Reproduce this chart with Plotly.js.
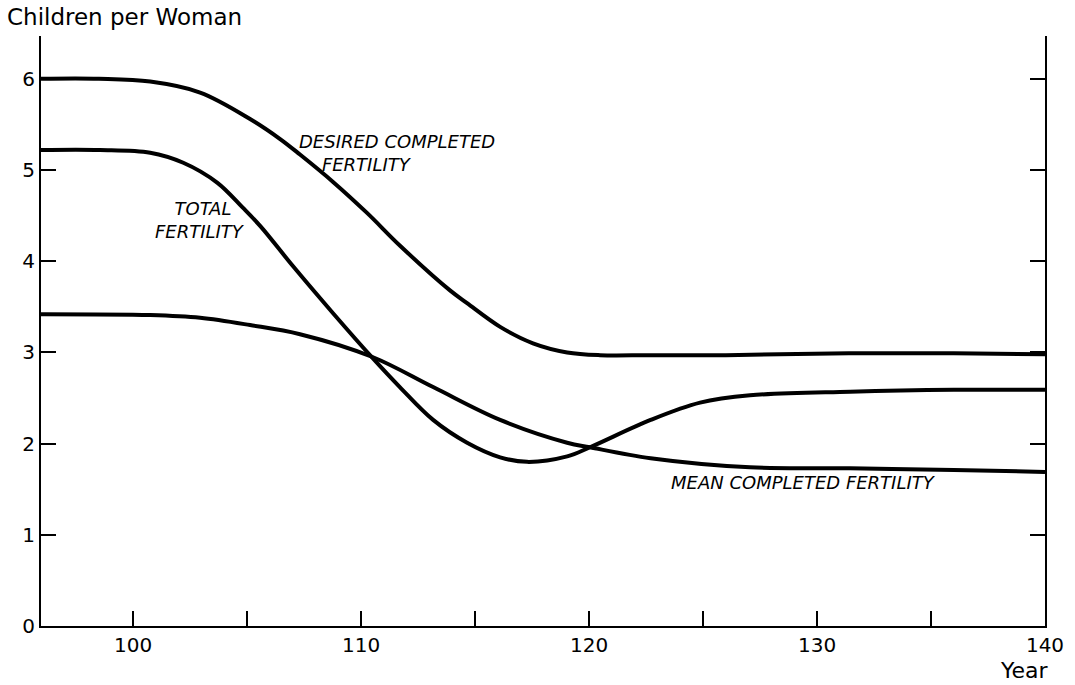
<!DOCTYPE html>
<html>
<head>
<meta charset="utf-8">
<script src="https://cdn.plot.ly/plotly-3.0.1.min.js"></script>
<style>html,body{margin:0;padding:0;background:#fff;}#chart{width:1075px;height:685px;}</style>
</head>
<body>
<div id="chart"></div>
<script>
// Desired completed fertility
const desiredYears  = [95.96, 98.5, 100.75, 102.94, 105.13, 106.45, 107.32, 108.77, 110.26, 111.71, 113.9, 114.65, 116.1, 117.54, 119.04, 120.48, 122.7, 126, 131.4, 136, 140];
const desiredValues = [6.0, 6.0, 5.97, 5.85, 5.56, 5.34, 5.17, 4.87, 4.53, 4.17, 3.68, 3.54, 3.28, 3.10, 3.0, 2.97, 2.97, 2.97, 2.99, 2.99, 2.98];

// Total fertility
const totalYears  = [95.96, 98.55, 100.75, 102.2, 103.7, 104.8, 105.6, 107.0, 108.77, 110.5, 111.7, 113.16, 114.65, 116.1, 117.28, 119.04, 120.04, 122.7, 124.87, 127.06, 131.45, 136, 140];
const totalValues = [5.22, 5.22, 5.19, 5.08, 4.86, 4.59, 4.38, 3.95, 3.43, 2.94, 2.62, 2.26, 2.01, 1.85, 1.80, 1.86, 1.96, 2.26, 2.45, 2.53, 2.57, 2.59, 2.59];

// Mean completed fertility
const meanYears  = [95.96, 100.75, 102.94, 105.13, 107.32, 110.5, 113.16, 116.1, 119.04, 120.04, 122.7, 127.06, 131.45, 136, 140];
const meanValues = [3.42, 3.41, 3.38, 3.30, 3.20, 2.95, 2.62, 2.26, 2.01, 1.96, 1.84, 1.74, 1.73, 1.71, 1.69];

// Axis ticks
const xTickVals  = [100, 105, 110, 115, 120, 125, 130, 135, 140];
const xTickText  = ["100", "", "110", "", "120", "", "130", "", "140"];
const yTickVals  = [0, 1, 2, 3, 4, 5, 6];
const yTickText  = ["0", "1", "2", "3", "4", "5", "6"];

const lineStyle = {color: '#000', width: 4, shape: 'spline', smoothing: 1};
const traces = [
  {x: desiredYears, y: desiredValues, mode: 'lines', line: lineStyle, name: 'Desired completed fertility', hoverinfo: 'x+y'},
  {x: totalYears, y: totalValues, mode: 'lines', line: lineStyle, name: 'Total fertility', hoverinfo: 'x+y'},
  {x: meanYears, y: meanValues, mode: 'lines', line: lineStyle, name: 'Mean completed fertility', hoverinfo: 'x+y'}
];

const labelFont = {family: 'DejaVu Sans', size: 18, color: '#000'};
const layout = {
  width: 1075, height: 685,
  margin: {l: 41, r: 30, t: 36, b: 59},
  paper_bgcolor: '#fff', plot_bgcolor: '#fff',
  showlegend: false,
  font: {family: 'DejaVu Sans', color: '#000'},
  xaxis: {
    range: [95.96, 140], showgrid: false, zeroline: false,
    showline: true, linecolor: '#000', linewidth: 2,
    tickmode: 'array', tickvals: xTickVals, ticktext: xTickText,
    ticks: 'inside', ticklen: 15, tickwidth: 2, tickcolor: '#000',
    tickfont: {family: 'DejaVu Sans', size: 20, color: '#000'}
  },
  yaxis: {
    range: [0, 6.47], showgrid: false, zeroline: false,
    showline: true, linecolor: '#000', linewidth: 2, mirror: 'ticks',
    tickmode: 'array', tickvals: yTickVals, ticktext: yTickText,
    ticks: 'inside', ticklen: 15, tickwidth: 2, tickcolor: '#000',
    tickfont: {family: 'DejaVu Sans', size: 20, color: '#000'}
  },
  annotations: [
    {xref: 'paper', yref: 'paper', x: -0.036, y: 1.032, xanchor: 'left', yanchor: 'middle',
     text: 'Children per Woman', showarrow: false, font: {family: 'DejaVu Sans', size: 23, color: '#000'}},
    {xref: 'paper', yref: 'paper', x: 0.98, y: -0.076, xanchor: 'center', yanchor: 'middle',
     text: 'Year', showarrow: false, font: {family: 'DejaVu Sans', size: 22, color: '#000'}},
    {x: 107.2, y: 5.19, xanchor: 'left', yanchor: 'middle', align: 'left',
     text: '<i>DESIRED COMPLETED</i><br><i>&nbsp;&nbsp;&nbsp;&nbsp;FERTILITY</i>', showarrow: false, font: labelFont},
    {x: 105.0, y: 4.45, xanchor: 'right', yanchor: 'middle', align: 'right',
     text: '<i>TOTAL&nbsp;&nbsp;</i><br><i>FERTILITY</i>', showarrow: false, font: labelFont},
    {x: 123.5, y: 1.57, xanchor: 'left', yanchor: 'middle', text: '<i>MEAN COMPLETED FERTILITY</i>', showarrow: false, font: labelFont}
  ]
};

Plotly.newPlot('chart', traces, layout, {displayModeBar: false, staticPlot: true});
</script>
</body>
</html>
